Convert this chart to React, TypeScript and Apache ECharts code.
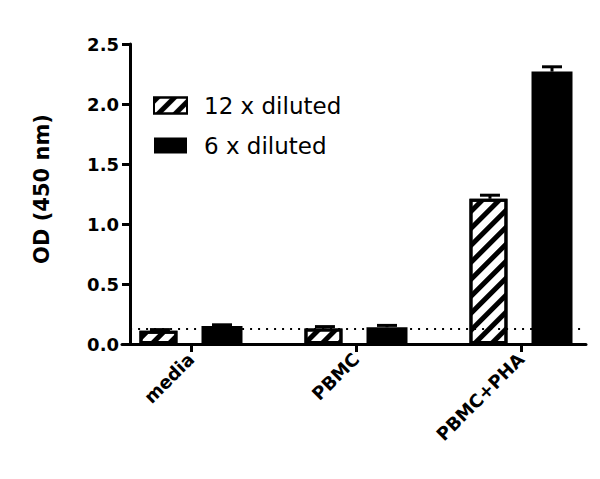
import React, { useEffect, useRef } from "react";
import * as echarts from "echarts";

const categories = ["media", "PBMC", "PBMC+PHA"];
const seriesNames = ["12 x diluted", "6 x diluted"];
const diluted12 = [0.11, 0.13, 1.21];
const diluted12Err = [0.01, 0.015, 0.03];
const diluted6 = [0.15, 0.14, 2.27];
const diluted6Err = [0.01, 0.015, 0.04];
const cutoff = 0.125;

const OFFSET = 0.188;
const FONT = "DejaVu Sans";

export default function App() {
  const ref = useRef<HTMLDivElement>(null);
  useEffect(() => {
    if (!ref.current) return;
    const chart = echarts.init(ref.current, null, { renderer: "svg" });
    const pos12 = categories.map((_, i) => i - OFFSET);
    const pos6 = categories.map((_, i) => i + OFFSET);
    const errData = [
      ...pos12.map((x, i) => [x, diluted12[i], diluted12Err[i]]),
      ...pos6.map((x, i) => [x, diluted6[i], diluted6Err[i]]),
    ];
    chart.setOption({
      animation: false,
      backgroundColor: "#fff",
      grid: { left: 122, right: 14, top: 44, bottom: 135 },
      legend: {
        left: 153,
        top: 94,
        orient: "vertical",
        itemWidth: 33,
        itemHeight: 16,
        itemGap: 17,
        padding: 0,
        icon: "rect",
        textStyle: { fontFamily: FONT, fontSize: 23, color: "#000", lineHeight: 23, padding: [0, 0, 0, 12] },
        data: seriesNames,
      },
      xAxis: {
        type: "value",
        min: -0.418,
        max: 2.394,
        splitLine: { show: false },
        axisLine: { show: true, onZero: false, lineStyle: { color: "#000", width: 3 } },
        axisTick: { show: true, customValues: [0, 1, 2], length: 8, lineStyle: { color: "#000", width: 3 } },
        axisLabel: {
          customValues: [0, 1, 2],
          formatter: (v: number) => categories[Math.round(v)] ?? "",
          rotate: 45,
          margin: 12,
          fontFamily: FONT,
          fontWeight: "bold",
          fontSize: 18,
          color: "#000",
        },
      },
      yAxis: {
        type: "value",
        min: 0,
        max: 2.5,
        interval: 0.5,
        offset: -8,
        name: "OD (450 nm)",
        nameLocation: "middle",
        nameGap: 78,
        nameTextStyle: { fontFamily: FONT, fontWeight: "bold", fontSize: 21, color: "#000", padding: [0, 0, 0, 10] },
        splitLine: { show: false },
        axisLine: { show: true, onZero: false, lineStyle: { color: "#000", width: 3 } },
        axisTick: { show: true, length: 8, lineStyle: { color: "#000", width: 3 } },
        axisLabel: {
          margin: 11,
          formatter: (v: number) => v.toFixed(1),
          fontFamily: FONT,
          fontWeight: "bold",
          fontSize: 18,
          color: "#000",
        },
      },
      series: [
        {
          name: seriesNames[0],
          type: "bar",
          barWidth: 38,
          barGap: "-100%",
          data: pos12.map((x, i) => [x, diluted12[i]]),
          itemStyle: {
            color: "#fff",
            borderColor: "#000",
            borderWidth: 3,
            decal: {
              symbol: "rect",
              color: "#000",
              dashArrayX: [1, 0],
              dashArrayY: [5, 7],
              rotation: -Math.PI / 4,
            },
          },
          markLine: {
            silent: true,
            symbol: "none",
            label: { show: false },
            lineStyle: { color: "#000", type: [2, 6], width: 2 },
            data: [[{ coord: [-0.36, cutoff] }, { coord: [2.394, cutoff] }]],
          },
          z: 2,
        },
        {
          name: seriesNames[1],
          type: "bar",
          barWidth: 41,
          barGap: "-100%",
          data: pos6.map((x, i) => [x, diluted6[i]]),
          itemStyle: { color: "#000" },
          z: 2,
        },
        {
          type: "custom",
          data: errData,
          encode: { x: 0, y: 1 },
          z: 5,
          renderItem: (params: any, api: any) => {
            const x = api.value(0);
            const m = api.value(1);
            const e = api.value(2);
            const base = api.coord([x, m]);
            const top = api.coord([x, m + e]);
            return {
              type: "group",
              children: [
                { type: "line", shape: { x1: base[0], y1: base[1], x2: top[0], y2: top[1] }, style: { stroke: "#000", lineWidth: 3 } },
                { type: "line", shape: { x1: top[0] - 10, y1: top[1], x2: top[0] + 10, y2: top[1] }, style: { stroke: "#000", lineWidth: 3 } },
              ],
            };
          },
        },
      ],
    });
    return () => chart.dispose();
  }, []);
  return <div ref={ref} style={{ width: 600, height: 479, position: "absolute", left: 0, top: 0 }} />;
}
